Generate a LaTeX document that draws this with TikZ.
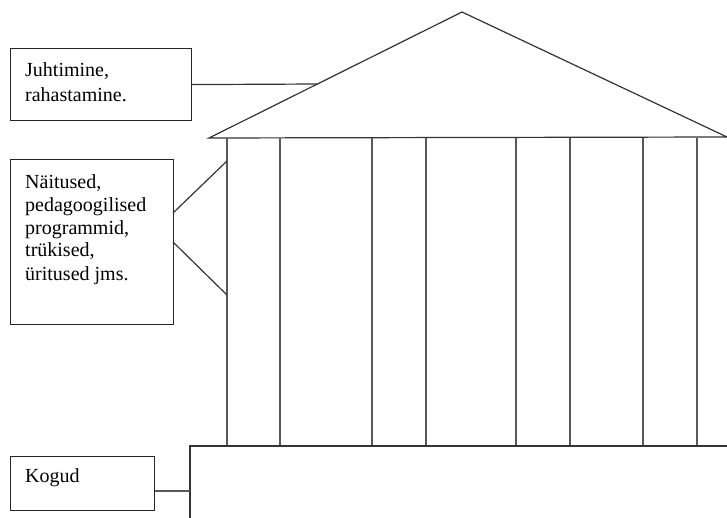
\documentclass[tikz,border=0pt]{standalone}
\usepackage{fontspec}
\setmainfont{Liberation Serif}
\begin{document}
\begin{tikzpicture}[x=1pt,y=-1pt,
  ln/.style={draw=black!80,line width=1.2pt},
  col/.style={draw=black!65,line width=1.3pt},
  boxst/.style={draw=black!85,line width=1.2pt,anchor=north west,inner sep=0pt},
  txt/.style={anchor=base west,inner sep=0pt,font=\fontsize{20}{23}\selectfont,align=left}]
\useasboundingbox[fill=white] (0,0) rectangle (727,518);
% boxes
\node[boxst,minimum width=181pt,minimum height=72pt] (b1) at (10,48) {};
\node[boxst,minimum width=163pt,minimum height=165pt] (b2) at (10,159) {};
\node[boxst,minimum width=144pt,minimum height=54pt] (b3) at (10,456) {};
\node[txt] (t1) at (25,77) {Juhtimine,};
\node[txt] (t1b) at (25,102) {rahastamine.};
\node[txt] (t2a) at (25,189) {Näitused,};
\node[txt] (t2b) at (25,212) {pedagoogilised};
\node[txt] (t2c) at (25,235) {programmid,};
\node[txt] (t2d) at (25,257) {trükised,};
\node[txt] (t2e) at (25,280) {üritused jms.};
\node[txt] (t3) at (25,482) {Kogud};
% roof
\coordinate (rl) at (209,138);
\coordinate (ap) at (462,12);
\coordinate (rr) at (727,137);
\draw[ln,line join=miter] (rr) -- (ap) -- (rl) -- (rr);
% columns
\foreach \x in {227,280,372,426,516,570,643,697}{
  \draw[col] (\x,138) -- (\x,446);
}
% base block
\coordinate (bl) at (190,446);
\draw[ln] (727,446) -- (bl) -- (190,518);
% connectors
\coordinate (c1) at (317.4,84);
\draw[ln] (b1.east) -- (c1);
\coordinate (c2a) at (227,161);
\coordinate (c2b) at (227,295);
\coordinate (b2a) at (173,213);
\coordinate (b2b) at (173,242);
\draw[ln] (b2a) -- (c2a);
\draw[ln] (b2b) -- (c2b);
\coordinate (c3) at (190,491);
\draw[col] (b3.east |- c3) -- (c3);
\end{tikzpicture}
\end{document}
